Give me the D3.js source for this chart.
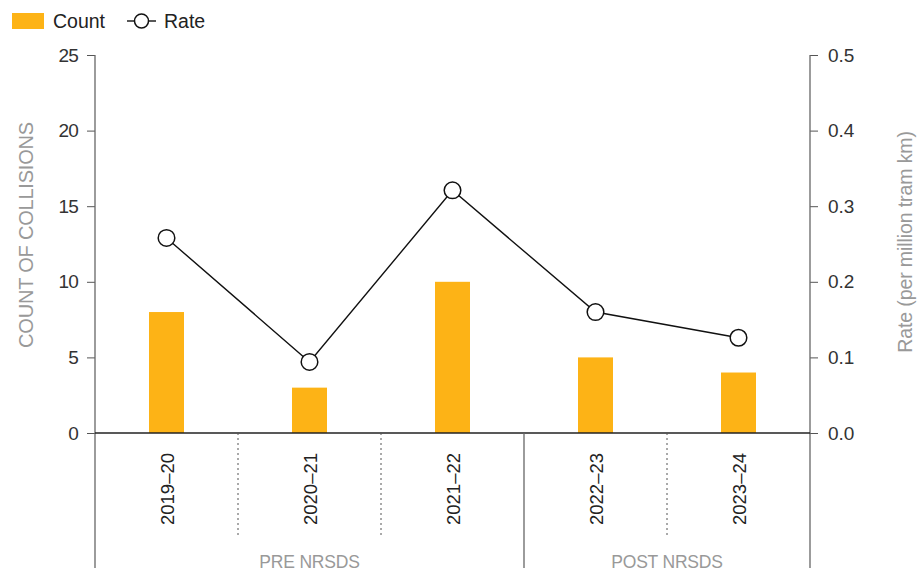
<!DOCTYPE html>
<html><head><meta charset="utf-8">
<script src="https://cdn.jsdelivr.net/npm/d3@7"></script>
<style>
body{margin:0;background:#fff;}
svg text{font-family:"Liberation Sans","Arial",sans-serif;}
</style></head>
<body><svg id="c" width="920" height="573"></svg>
<script>
const categories = ["2019–20","2020–21","2021–22","2022–23","2023–24"];
const counts = [8,3,10,5,4];
const rates = [0.258,0.094,0.321,0.160,0.126];
const groups = [{name:"PRE NRSDS", cats:["2019–20","2020–21","2021–22"]},{name:"POST NRSDS", cats:["2022–23","2023–24"]}];
const leftTicks = [0,5,10,15,20,25];
const rightTicks = [0,0.1,0.2,0.3,0.4,0.5];

const FONT = "Liberation Sans, Arial, sans-serif";
const svg = d3.select("#c");
const L=95, R=810, T=55, B=433, BOTTOM=568;
const x = d3.scaleBand().domain(categories).range([L,R]);
const yL = d3.scaleLinear().domain([0,25]).range([B,T]);
const yR = d3.scaleLinear().domain([0,0.5]).range([B,T]);
const barW = 35;
const color = "#FDB316";

// bars
svg.selectAll("rect.bar").data(categories).join("rect")
  .attr("x", d=>x(d)+x.bandwidth()/2-barW/2)
  .attr("y", (d,i)=>yL(counts[i]))
  .attr("width", barW)
  .attr("height", (d,i)=>B-yL(counts[i]))
  .attr("fill", color);

// left axis
const gL = svg.append("g").attr("transform",`translate(${L},0)`)
  .call(d3.axisLeft(yL).tickValues(leftTicks).tickSize(8).tickPadding(9).tickFormat(d3.format("d")));
gL.select(".domain").remove();
gL.selectAll("line").attr("stroke","#555");
gL.selectAll("text").attr("font-size",19).attr("fill","#333").attr("font-family",FONT).attr("letter-spacing","-0.8");
svg.append("line").attr("x1",L).attr("x2",L).attr("y1",T).attr("y2",BOTTOM).attr("stroke","#666").attr("stroke-width",1.3);

// right axis
const gR = svg.append("g").attr("transform",`translate(${R},0)`)
  .call(d3.axisRight(yR).tickValues(rightTicks).tickSize(8).tickPadding(10).tickFormat(d3.format(".1f")));
gR.select(".domain").remove();
gR.selectAll("line").attr("stroke","#555");
gR.selectAll("text").attr("font-size",19).attr("fill","#333").attr("font-family",FONT);
svg.append("line").attr("x1",R).attr("x2",R).attr("y1",T).attr("y2",BOTTOM).attr("stroke","#666").attr("stroke-width",1.3);

// baseline
svg.append("line").attr("x1",L).attr("x2",R).attr("y1",B).attr("y2",B).attr("stroke","#222").attr("stroke-width",1.3);

// separators
groups.forEach((g,gi)=>{
  g.cats.forEach((c,ci)=>{
    if(ci>0){
      svg.append("line").attr("x1",x(c)).attr("x2",x(c)).attr("y1",B).attr("y2",538)
        .attr("stroke","#555").attr("stroke-dasharray","2,3").attr("stroke-width",1);
    }
  });
  if(gi>0){
    const xs = x(g.cats[0]);
    svg.append("line").attr("x1",xs).attr("x2",xs).attr("y1",B).attr("y2",BOTTOM).attr("stroke","#666").attr("stroke-width",1.3);
  }
  const x0 = x(g.cats[0]), x1 = x(g.cats[g.cats.length-1])+x.bandwidth();
  svg.append("text").attr("x",(x0+x1)/2).attr("y",568).attr("text-anchor","middle")
    .attr("font-size",17.5).attr("fill","#999").attr("letter-spacing","-0.2").text(g.name);
});

// category labels
svg.selectAll("text.cat").data(categories).join("text")
  .attr("class","cat")
  .attr("transform", d=>`translate(${x(d)+x.bandwidth()/2+7},489) rotate(-90)`)
  .attr("text-anchor","middle").attr("font-size",18.5).attr("fill","#222").text(d=>d);

// line
const line = d3.line().x((d,i)=>x(categories[i])+x.bandwidth()/2).y(d=>yR(d));
svg.append("path").datum(rates).attr("d",line).attr("fill","none").attr("stroke","#111").attr("stroke-width",1.4);
svg.selectAll("circle.pt").data(rates).join("circle")
  .attr("cx",(d,i)=>x(categories[i])+x.bandwidth()/2).attr("cy",d=>yR(d)).attr("r",8.3)
  .attr("fill","#fff").attr("stroke","#111").attr("stroke-width",1.5);

// axis titles
svg.append("text").attr("transform","translate(33,235) rotate(-90)").attr("text-anchor","middle")
  .attr("font-size",20).attr("letter-spacing","-0.2").attr("fill","#999").text("COUNT OF COLLISIONS");
svg.append("text").attr("transform","translate(912,242) rotate(-90)").attr("text-anchor","middle")
  .attr("font-size",19.5).attr("letter-spacing","-0.1").attr("fill","#999").text("Rate (per million tram km)");

// legend
svg.append("rect").attr("x",12).attr("y",13).attr("width",32).attr("height",16).attr("fill",color);
svg.append("text").attr("x",53).attr("y",28).attr("font-size",19.5).attr("fill","#222").text("Count");
svg.append("line").attr("x1",127).attr("x2",156).attr("y1",21).attr("y2",21).attr("stroke","#111").attr("stroke-width",1.4);
svg.append("circle").attr("cx",141.5).attr("cy",21).attr("r",7).attr("fill","#fff").attr("stroke","#111").attr("stroke-width",1.5);
svg.append("text").attr("x",164).attr("y",28).attr("font-size",19.5).attr("fill","#222").text("Rate");
</script></body></html>
